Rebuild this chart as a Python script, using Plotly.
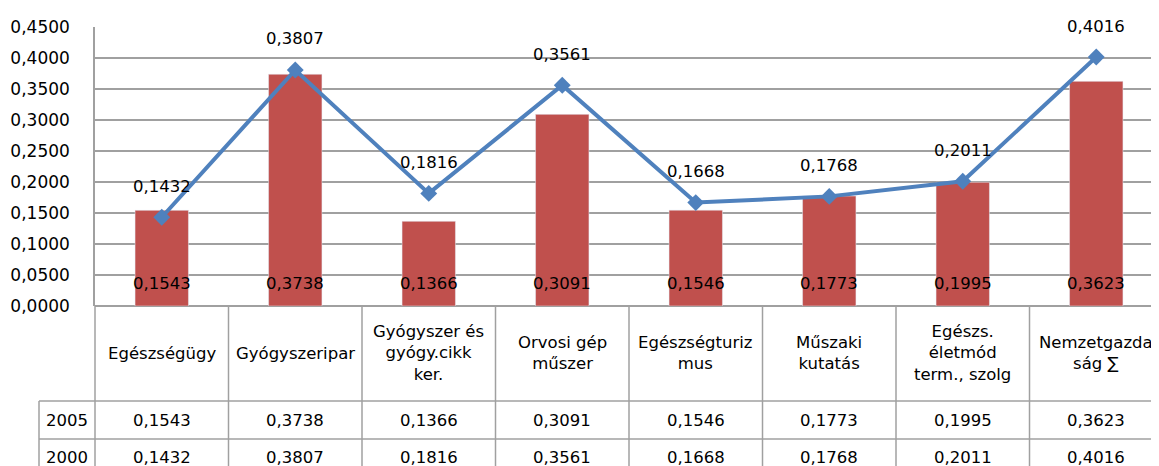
import plotly.graph_objects as go

categories = ["Egészségügy", "Gyógyszeripar", "Gyógyszer és<br>gyógy.cikk<br>ker.",
              "Orvosi gép<br>műszer", "Egészségturiz<br>mus", "Műszaki<br>kutatás",
              "Egészs.<br>életmód<br>term., szolg", "Nemzetgazda<br>ság ∑"]
values_2005 = [0.1543, 0.3738, 0.1366, 0.3091, 0.1546, 0.1773, 0.1995, 0.3623]
values_2000 = [0.1432, 0.3807, 0.1816, 0.3561, 0.1668, 0.1768, 0.2011, 0.4016]
series_names = ["2005", "2000"]
y_ticks = [0.0, 0.05, 0.10, 0.15, 0.20, 0.25, 0.30, 0.35, 0.40, 0.45]

OFF = 8  # default page body margin
W, H = 1159 - OFF, 466 - OFF
ML, MT, MB = 95 - OFF, 27 - OFF, 160
PLOT_H = H - MT - MB
XMIN, XMAX = -0.5, 7.47
FONT = "DejaVu Sans"
FS = 16.5
BAR_COLOR = "#C0504D"
LINE_COLOR = "#4F81BD"
GRID = "#A0A0A0"

def fmt(v):
    return f"{v:.4f}".replace(".", ",")

def py(pix):
    # pix: screen pixel y in the reference
    return (306 - pix) / PLOT_H

def px_x(xval):
    return (xval - XMIN) / (XMAX - XMIN)

def px_screen(pix):
    return (pix - 95) / (W - ML)

xs = list(range(len(categories)))

fig = go.Figure()
fig.add_trace(go.Bar(x=xs, y=values_2005, name=series_names[0], marker_color=BAR_COLOR,
                     width=0.40, hoverinfo="skip"))
fig.add_trace(go.Scatter(x=xs, y=values_2000, name=series_names[1], mode="lines+markers",
                         line=dict(color=LINE_COLOR, width=4),
                         marker=dict(symbol="diamond", size=13, color=LINE_COLOR),
                         hoverinfo="skip"))

annotations = []
tf = dict(family=FONT, size=FS, color="black")
for i, v in enumerate(values_2005):
    annotations.append(dict(x=i, y=0, xref="x", yref="y", text=fmt(v), showarrow=False,
                            yshift=23, yanchor="middle", font=tf))
for i, v in enumerate(values_2000):
    annotations.append(dict(x=i, y=v, xref="x", yref="y", text=fmt(v), showarrow=False,
                            yshift=31, yanchor="middle", font=tf))

row_y = {"hdr": py(353), "2005": py(420), "2000": py(457)}
for i, c in enumerate(categories):
    annotations.append(dict(x=i, y=row_y["hdr"], xref="x", yref="paper", text=c, showarrow=False,
                            yanchor="middle", align="center", font=tf))
    annotations.append(dict(x=i, y=row_y["2005"], xref="x", yref="paper", text=fmt(values_2005[i]),
                            showarrow=False, yanchor="middle", font=tf))
    annotations.append(dict(x=i, y=row_y["2000"], xref="x", yref="paper", text=fmt(values_2000[i]),
                            showarrow=False, yanchor="middle", font=tf))
for name in series_names:
    annotations.append(dict(x=px_screen(67), y=row_y[name], xref="paper", yref="paper",
                            text=name, showarrow=False, yanchor="middle", xanchor="center",
                            font=tf))

shapes = []
line_style = dict(color=GRID, width=1.5)
bottom = py(480)
for k in range(len(categories) + 1):
    xp = px_x(k - 0.5)
    shapes.append(dict(type="line", xref="paper", yref="paper", x0=xp, x1=xp,
                       y0=0, y1=bottom, line=line_style))
x_left = px_screen(39)
for pix in (401, 439):
    shapes.append(dict(type="line", xref="paper", yref="paper", x0=x_left, x1=1.01,
                       y0=py(pix), y1=py(pix), line=line_style))
shapes.append(dict(type="line", xref="paper", yref="paper", x0=x_left, x1=x_left,
                   y0=py(401), y1=bottom, line=line_style))

fig.update_layout(
    width=W, height=H,
    margin=dict(l=ML, r=0, t=MT, b=MB),
    paper_bgcolor="white", plot_bgcolor="white",
    separators=",.",
    showlegend=False,
    annotations=annotations,
    shapes=shapes,
    xaxis=dict(range=[XMIN, XMAX], showticklabels=False, showgrid=False, zeroline=False,
               showline=False, ticks=""),
    yaxis=dict(range=[0, 0.45], tickvals=y_ticks, tickformat=".4f", showgrid=True,
               gridcolor=GRID, gridwidth=1.5, zeroline=True, zerolinecolor=GRID, zerolinewidth=1.5,
               showline=True, linecolor=GRID, linewidth=1.5, ticks="", ticklabelstandoff=20,
               tickfont=dict(family=FONT, size=FS + 0.5, color="black")),
    font=dict(family=FONT, color="black"),
)

fig.write_html("out.html")
